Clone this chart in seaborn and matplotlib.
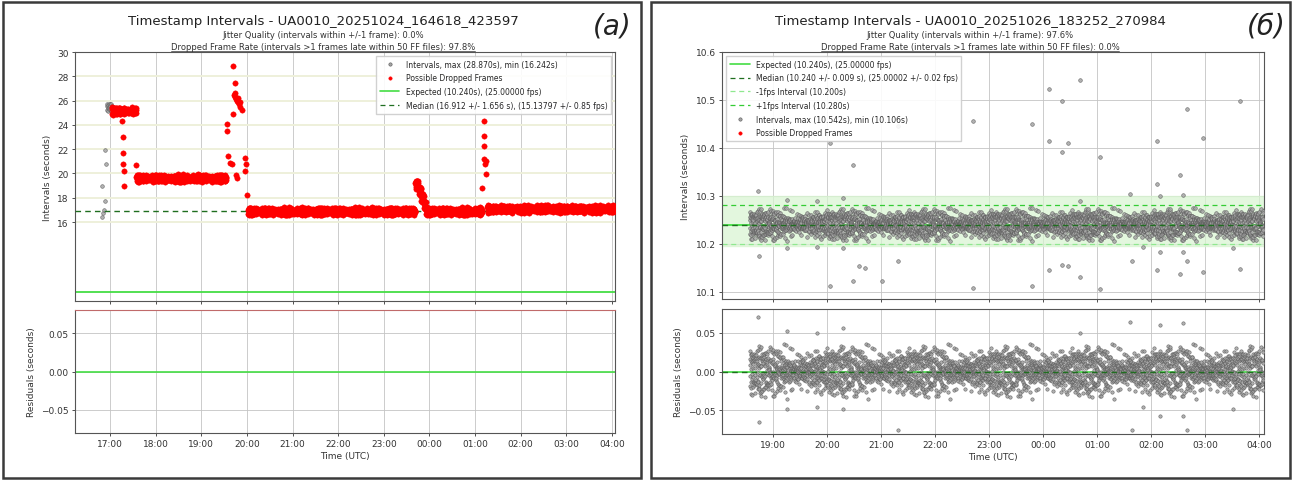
import numpy as np
import pandas as pd
import matplotlib
matplotlib.use("Agg")
import matplotlib.pyplot as plt
import matplotlib.dates as mdates
from matplotlib.patches import Rectangle
from matplotlib.lines import Line2D
import seaborn as sns

# ---------------- panel (a) : UA0010_20251024_164618_423597 ----------------
a_day = "2025-10-24"
a_expected = 10.240
a_median = 16.912
# dense runs of intervals: start hour, end hour, interval (s), flagged as dropped
a_run_start = [16.93, 17.04, 17.58, 20.03, 23.69, 23.76, 23.82, 23.88, 23.93, 25.27]
a_run_end = [17.04, 17.58, 19.55, 23.69, 23.76, 23.82, 23.88, 23.93, 25.15, 28.07]
a_run_level = [25.45, 25.15, 19.60, 16.88, 19.10, 18.60, 18.00, 17.40, 16.88, 17.08]
a_run_flag = [False, True, True, True, True, True, True, True, True, True]
# single intervals (hour, seconds, flagged)
a_pt_hour = [16.82, 16.85, 16.87, 16.89, 16.83, 16.91, 16.89,
             17.27, 17.28, 17.28, 17.29, 17.30, 17.30, 17.56,
             19.56, 19.57, 19.59, 19.63, 19.67, 19.70, 19.73, 19.72, 19.74, 19.75,
             19.76, 19.78, 19.80, 19.81, 19.83, 19.85, 19.86, 19.89, 19.70, 19.78,
             19.77, 19.96, 19.98, 19.95, 20.01,
             25.15, 25.19, 25.20, 25.20, 25.20, 25.22, 25.24, 25.24]
a_pt_value = [16.44, 16.72, 17.00, 17.70, 19.00, 20.75, 21.94,
              24.28, 22.97, 21.72, 20.75, 20.20, 18.94, 20.67,
              23.53, 24.08, 21.44, 20.89, 20.75, 28.87, 27.42, 26.44, 26.60, 26.30,
              26.17, 26.00, 25.89, 26.20, 25.70, 25.47, 25.90, 25.19, 24.92, 19.64,
              19.90, 21.31, 20.75, 20.19, 18.25,
              18.81, 22.28, 24.36, 23.11, 21.17, 20.75, 19.92, 21.00]
a_pt_flag = [False] * 7 + [True] * 40
# scatter seen inside the dense runs (s), two interleaved readings
a_spread = [0.07, -0.15, 0.18, -0.03, 0.12, -0.20, 0.03, 0.16, -0.09, 0.21,
            -0.06, 0.09, -0.17, 0.14, -0.01, 0.05, -0.12, 0.19, -0.07, 0.11,
            -0.16, 0.01, 0.15, -0.05, 0.08, -0.19, 0.17, -0.11, 0.04, -0.01]
a_spread2 = [0.05, -0.10, 0.13, -0.03, 0.09, -0.14, 0.01, 0.11, -0.07, 0.03, -0.09]

# ---------------- panel (б) : UA0010_20251026_183252_270984 ----------------
b_day = "2025-10-26"
b_expected = 10.240
b_median = 10.240
b_run_start = [18.57]
b_run_end = [28.08]
b_run_level = [10.240]
b_run_flag = [False]
b_pt_hour = [18.72, 20.06, 20.48, 21.31, 22.70, 20.30, 19.26, 19.81, 18.74, 19.26,
             19.81, 20.30, 20.59, 20.70, 20.48, 21.02, 21.31, 20.06, 22.70,
             24.69, 24.11, 24.35, 27.65, 26.67, 23.80, 24.11, 24.46, 24.35, 25.06,
             26.11, 26.96, 26.54, 26.11, 25.61, 26.59, 26.17, 24.69, 25.65, 26.17,
             26.59, 26.67, 26.11, 26.54, 26.96, 27.65, 24.11, 24.35, 24.46, 24.69,
             23.80, 25.06, 25.85, 27.52]
b_pt_value = [10.310, 10.410, 10.365, 10.446, 10.456, 10.296, 10.292, 10.290, 10.175, 10.192,
              10.194, 10.192, 10.154, 10.150, 10.123, 10.123, 10.165, 10.112, 10.108,
              10.542, 10.523, 10.498, 10.498, 10.481, 10.450, 10.415, 10.410, 10.392, 10.381,
              10.415, 10.421, 10.344, 10.325, 10.304, 10.302, 10.300, 10.290, 10.165, 10.183,
              10.183, 10.165, 10.146, 10.138, 10.142, 10.148, 10.146, 10.156, 10.154, 10.131,
              10.112, 10.106, 10.194, 10.192]
b_pt_flag = [False] * 53
b_spread = [0.003, -0.007, 0.011, -0.002, 0.006, -0.014, 0.001, 0.009, -0.005, 0.017,
            -0.010, 0.004, -0.001, 0.013, -0.018, 0.007, -0.006, 0.002, 0.020, -0.009,
            0.005, -0.012, 0.010, -0.003, 0.001, -0.016, 0.014, -0.001, 0.008, -0.011,
            0.005, 0.019, -0.007, 0.003, -0.020, 0.009, -0.004, 0.012, -0.013, 0.007, -0.003]
b_spread2 = [0.006, -0.012, 0.015, -0.004, 0.010, -0.015, 0.002, 0.013, -0.008, 0.004,
             -0.011, 0.009, -0.002]


def build(day, r_start, r_end, r_level, r_flag, sp1, sp2, p_hour, p_value, p_flag, expected):
    parts = []
    for s, e, lv, fl in zip(r_start, r_end, r_level, r_flag):
        secs = np.arange(s * 3600, e * 3600, lv)  # one timestamp per interval
        n = len(secs)
        vals = lv + np.resize(np.array(sp1), n) + np.resize(np.array(sp2), n)
        parts.append(pd.DataFrame({"sec": secs, "interval": vals, "dropped": fl}))
    parts.append(pd.DataFrame({"sec": np.array(p_hour) * 3600, "interval": p_value,
                               "dropped": p_flag}))
    df = pd.concat(parts, ignore_index=True)
    df["time"] = pd.Timestamp(day) + pd.to_timedelta(df["sec"], unit="s")
    df["residual"] = df["interval"] - expected
    return df


dfa = build(a_day, a_run_start, a_run_end, a_run_level, a_run_flag, a_spread, a_spread2,
            a_pt_hour, a_pt_value, a_pt_flag, a_expected)
dfb = build(b_day, b_run_start, b_run_end, b_run_level, b_run_flag, b_spread, b_spread2,
            b_pt_hour, b_pt_value, b_pt_flag, b_expected)

sns.set_theme(style="whitegrid", rc={
    "axes.edgecolor": "#555555", "axes.linewidth": 0.8,
    "grid.color": "#c4c4c4", "grid.linewidth": 0.6,
    "xtick.bottom": True, "ytick.left": True,
    "xtick.major.size": 2.5, "ytick.major.size": 2.5,
    "xtick.major.width": 0.6, "ytick.major.width": 0.6,
    "xtick.major.pad": 2, "ytick.major.pad": 2,
    "xtick.labelsize": 6.5, "ytick.labelsize": 6.5, "axes.labelsize": 6.5,
    "xtick.color": "#333333", "ytick.color": "#333333", "axes.labelcolor": "#333333",
})
plt.rcParams["font.family"] = ["DejaVu Sans"]

W, H = 1292, 481
fig = plt.figure(figsize=(W / 100, H / 100), dpi=100)


def box(x0, y0, x1, y1):
    return [x0 / W, 1 - y1 / H, (x1 - x0) / W, (y1 - y0) / H]


axA = fig.add_axes(box(75, 53, 615, 302))
axAr = fig.add_axes(box(75, 311, 615, 434), sharex=axA)
axB = fig.add_axes(box(722, 53, 1264, 300))
axBr = fig.add_axes(box(722, 310, 1264, 435), sharex=axB)

# panel frames
for x0, x1 in [(3, 641), (651, 1290)]:
    fig.add_artist(Rectangle((x0 / W, 2 / H), (x1 - x0) / W, 476 / H,
                             transform=fig.transFigure, fill=False, lw=1.8, ec="#3a3a3a"))

GREY_FC, GREY_EC = "#a4a4a4", "#555555"
EXP_C, MED_C = "#44dd44", "#1f6e1f"


def draw(ax, axr, df, expected, median, xlim, extra_lines):
    sns.scatterplot(data=df, x="time", y="interval", ax=ax, s=7, color=GREY_FC,
                    edgecolor=GREY_EC, linewidth=0.4, alpha=0.85, zorder=3)
    red = df[df["dropped"]]
    if len(red):
        sns.scatterplot(data=red, x="time", y="interval", ax=ax, s=15, color="red",
                        edgecolor="red", linewidth=0.3, zorder=4)
    ax.axhline(expected, color=EXP_C, lw=1.3, zorder=2)
    ax.axhline(median, color=MED_C, lw=1.0, ls=(0, (4, 3)), zorder=3.5)
    for val, col in extra_lines:
        ax.axhline(val, color=col, lw=0.9, ls=(0, (4, 3)), zorder=2)

    sns.scatterplot(data=df, x="time", y="residual", ax=axr, s=6, color=GREY_FC,
                    edgecolor=GREY_EC, linewidth=0.4, alpha=0.85, zorder=3)
    axr.axhline(0, color=EXP_C, lw=1.2, zorder=2)
    if extra_lines:
        axr.axhline(median - expected, color=MED_C, lw=1.0, ls=(0, (4, 3)), zorder=3.5)
    axr.set_ylim(-0.0805, 0.0805)
    axr.set_yticks([-0.05, 0.0, 0.05])
    axr.set_ylabel("Residuals (seconds)")
    axr.set_xlabel("Time (UTC)", labelpad=2)
    ax.set_ylabel("Intervals (seconds)")
    ax.set_xlabel("")
    ax.set_xlim(pd.Timestamp(xlim[0]), pd.Timestamp(xlim[1]))
    axr.xaxis.set_major_locator(mdates.HourLocator())
    axr.xaxis.set_major_formatter(mdates.DateFormatter("%H:%M"))
    plt.setp(ax.get_xticklabels(), visible=False)


draw(axA, axAr, dfa, a_expected, a_median,
     ("2025-10-24 16:14", "2025-10-25 04:04"), [])
axA.set_ylim(9.5, 30)
axA.set_yticks(range(16, 31, 2))
axA.grid(axis="y", color="#eef0da", lw=1.4)
axAr.spines["top"].set_color("#c06a6a")

axB.axhspan(10.195, 10.30, color="#d8f5d0", alpha=0.7, zorder=1)
draw(axB, axBr, dfb, b_expected, b_median,
     ("2025-10-26 18:03:20", "2025-10-27 04:05:24"),
     [(10.200, "#8fe88f"), (10.280, "#33cc33")])
axB.set_ylim(10.085, 10.6)
axB.set_yticks([10.1, 10.2, 10.3, 10.4, 10.5, 10.6])


def pt(color, ms=2.4):
    return Line2D([], [], marker="o", ls="", ms=ms, mfc=color,
                  mec=GREY_EC if color == GREY_FC else color, mew=0.4)


exp_h = Line2D([], [], color=EXP_C, lw=1.2)
med_h = Line2D([], [], color=MED_C, lw=0.9, ls=(0, (4, 3)))
leg_kw = dict(fontsize=5.5, frameon=True, framealpha=0.9, edgecolor="#cccccc",
              fancybox=False, borderpad=0.5, labelspacing=0.62, handlelength=2.6)

axA.legend([pt(GREY_FC), pt("red"), exp_h, med_h],
           [f"Intervals, max ({max(a_pt_value):.3f}s), min (16.242s)",
            "Possible Dropped Frames",
            "Expected (10.240s), (25.00000 fps)",
            "Median (16.912 +/- 1.656 s), (15.13797 +/- 0.85 fps)"],
           loc="upper right", bbox_to_anchor=(1.0, 1.0), **leg_kw)

axB.legend([exp_h, med_h,
            Line2D([], [], color="#8fe88f", lw=0.9, ls=(0, (4, 3))),
            Line2D([], [], color="#33cc33", lw=0.9, ls=(0, (4, 3))),
            pt(GREY_FC), pt("red")],
           ["Expected (10.240s), (25.00000 fps)",
            "Median (10.240 +/- 0.009 s), (25.00002 +/- 0.02 fps)",
            "-1fps Interval (10.200s)",
            "+1fps Interval (10.280s)",
            f"Intervals, max ({max(b_pt_value):.3f}s), min ({min(b_pt_value):.3f}s)",
            "Possible Dropped Frames"],
           loc="upper left", bbox_to_anchor=(0.0, 1.0), **leg_kw)

# titles
titles = [
    (323, "Timestamp Intervals - UA0010_20251024_164618_423597", "0.0%", "97.8%", "(a)", 612),
    (970, "Timestamp Intervals - UA0010_20251026_183252_270984", "97.6%", "0.0%", "(б)", 1266),
]
drop_texts = []
for cx, title, jit, drop, tag, tx in titles:
    fig.text(cx / W, 1 - 21 / H, title, ha="center", va="center", fontsize=9.5, color="#222222")
    fig.text(cx / W, 1 - 36 / H, f"Jitter Quality (intervals within +/-1 frame): {jit}",
             ha="center", va="center", fontsize=6.0, color="#333333")
    drop_texts.append(fig.text(
        cx / W, 1 - 47.5 / H,
        f"Dropped Frame Rate (intervals >1 frames late within 50 FF files): {drop}",
        ha="center", va="center", fontsize=6.0, color="#333333"))
    fig.text(tx / W, 1 - 27 / H, tag, ha="center", va="center", fontsize=20,
             style="italic", color="#222222")

# underline of the dropped-frame lines
fig.canvas.draw()
for t in drop_texts:
    bb = t.get_window_extent()
    fig.add_artist(Line2D([bb.x0, bb.x1], [bb.y0 + 0.5, bb.y0 + 0.5], transform=None,
                          color="#555555", lw=0.6))

fig.savefig("out.png", dpi=100)
